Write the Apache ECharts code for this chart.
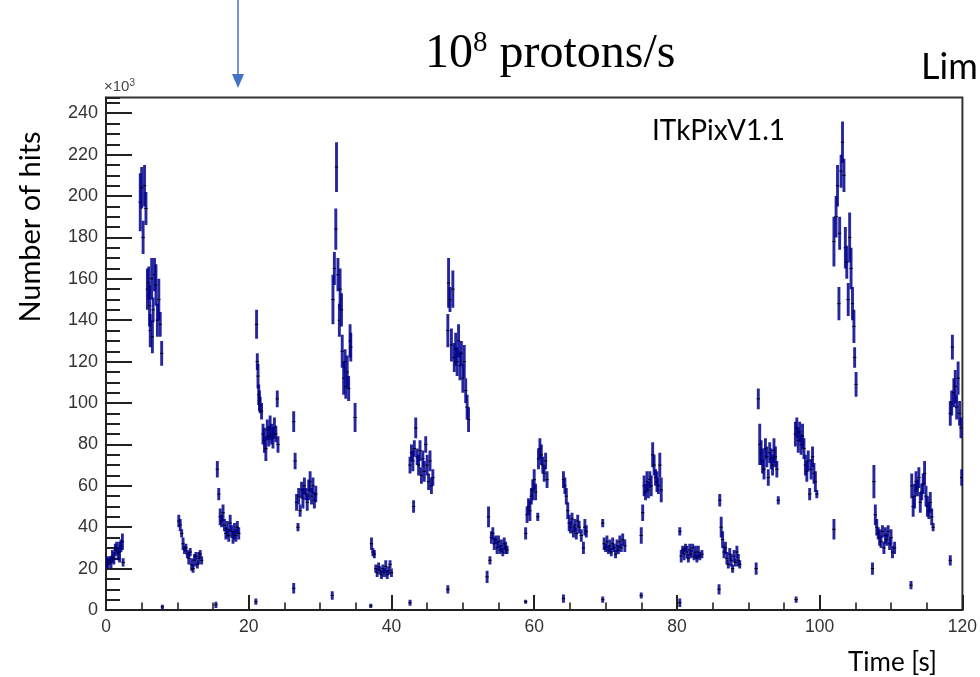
<!DOCTYPE html>
<html>
<head>
<meta charset="utf-8">
<script src="https://cdn.jsdelivr.net/npm/echarts@6/dist/echarts.min.js"></script>
<style>
html,body{margin:0;padding:0;background:#fff;}
#chart{width:980px;height:677px;}
</style>
</head>
<body>
<div id="chart"></div>
<script>
// ---- tick labels ----
const xTickLabels = [0, 20, 40, 60, 80, 100, 120];
const yTickLabels = [0, 20, 40, 60, 80, 100, 120, 140, 160, 180, 200, 220, 240];

// ---- data: [time (s), hits (x10^3), error half-length (x10^3)] ----
const spillA = [[0.1,23,3],[0.3,22,2],[0.5,24,2],[0.7,23,3],[0.9,26,3],[1.1,25,3],[1.3,29,3],[1.5,30,3],[1.7,27,3],[1.9,28,5],[2.1,31,3],[2.3,33,4],[2.4,23,2]];
const spillB = [[4.8,197,14],[5.0,204,10],[5.2,180,8],[5.4,205,10],[5.6,194,8],[5.8,155,10],[6.0,158,8],[6.1,147,10],[6.2,135,8],[6.4,160,10],[6.5,132,8],[6.6,145,6],[6.8,162,8],[7.0,157,10],[7.2,140,8],[7.4,150,10],[7.6,138,6],[7.8,124,6]];
const spillC = [[10.2,43,3],[10.4,41,3],[10.6,37,2],[10.8,32,3],[11.0,29,2],[11.2,30,2],[11.4,27,2],[11.6,25,3],[11.8,28,2],[12.0,22,3],[12.2,20,2],[12.4,24,3],[12.6,26,2],[12.8,22,2],[13.0,25,3],[13.2,27,2],[13.4,24,2]];
const spillD = [[15.6,68,4],[15.8,56,3],[16.0,45,4],[16.2,43,3],[16.4,47,4],[16.6,41,3],[16.8,37,3],[17.0,39,4],[17.2,36,3],[17.4,42,4],[17.6,38,3],[17.8,35,3],[18.0,38,4],[18.2,36,3],[18.4,40,3],[18.6,37,3]];
const spillE = [[21.1,138,7],[21.2,120,4],[21.3,113,6],[21.4,104,5],[21.5,101,5],[21.6,99,4],[21.8,96,4],[22.0,85,5],[22.2,82,6],[22.4,78,6],[22.6,87,5],[22.8,84,5],[23.0,88,6],[23.2,85,5],[23.4,83,5],[23.6,88,5],[23.8,85,4],[24.0,102,4],[24.1,80,4]];
const spillF = [[26.3,91,5],[26.5,72,4],[26.7,52,4],[26.9,40,2],[27.0,55,4],[27.2,48,3],[27.4,58,4],[27.6,54,5],[27.8,60,4],[28.0,56,3],[28.2,52,4],[28.4,58,5],[28.6,62,5],[28.8,55,4],[29.0,60,4],[29.2,53,4],[29.4,56,4]];
const spillG = [[31.8,150,12],[32.0,165,8],[32.2,184,10],[32.3,214,12],[32.5,162,8],[32.7,140,8],[32.8,155,10],[33.0,145,8],[33.1,125,8],[33.3,112,8],[33.5,120,6],[33.6,108,6],[33.8,115,8],[34.0,107,6],[34.2,130,8],[34.3,127,7],[34.9,93,7]];
const spillH = [[37.2,32,3],[37.4,28,2],[37.6,27,2],[37.8,20,2],[38.0,18,2],[38.2,21,2],[38.4,19,2],[38.6,17,2],[38.8,20,2],[39.0,18,2],[39.2,21,3],[39.4,17,2],[39.6,19,2],[39.8,22,2],[40.0,18,2]];
const spillI = [[42.6,70,4],[42.8,76,4],[43.0,72,5],[43.1,50,3],[43.2,78,4],[43.4,88,5],[43.6,74,4],[43.8,70,5],[44.0,77,5],[44.2,65,4],[44.4,73,4],[44.6,67,5],[44.8,80,4],[45.0,70,5],[45.2,62,4],[45.4,72,5],[45.6,60,4],[45.8,64,4]];
const spillJ = [[47.9,135,8],[48.0,158,12],[48.2,150,6],[48.4,128,8],[48.6,155,9],[48.8,122,7],[49.0,126,8],[49.2,120,7],[49.4,130,8],[49.6,118,7],[49.8,124,6],[50.0,112,7],[50.2,120,8],[50.4,106,6],[50.6,98,6],[50.8,92,6]];
const spillK = [[53.4,16,3],[53.6,45,5],[53.8,24,2],[54.0,35,3],[54.2,37,3],[54.4,32,3],[54.6,34,2],[54.8,30,3],[55.0,33,3],[55.2,29,2],[55.4,31,3],[55.6,28,2],[55.8,32,3],[56.0,30,3],[56.2,29,2]];
const spillL = [[58.8,37,3],[59.0,46,4],[59.2,50,4],[59.4,48,5],[59.6,55,4],[59.8,58,5],[60.0,63,5],[60.2,57,4],[60.5,45,2],[60.6,73,5],[60.8,78,5],[61.0,75,5],[61.2,70,4],[61.4,66,4],[61.6,72,4],[61.8,63,4]];
const spillM = [[64.1,63,4],[64.3,60,4],[64.5,55,4],[64.7,48,4],[64.9,42,4],[65.1,40,3],[65.3,44,3],[65.5,38,3],[65.7,41,3],[65.9,37,3],[66.1,43,3],[66.3,40,3],[66.6,36,3],[66.9,30,3],[67.1,40,4],[67.3,38,3]];
const spillN = [[69.6,42,2],[69.8,32,3],[70.0,30,2],[70.2,33,3],[70.4,29,2],[70.6,31,3],[70.8,28,2],[71.0,32,3],[71.2,30,2],[71.4,27,2],[71.6,31,3],[71.8,29,2],[72.0,33,3],[72.2,30,2],[72.4,34,3],[72.7,31,3]];
const spillO = [[75.0,36,4],[75.2,47,4],[75.4,60,5],[75.6,57,4],[75.8,62,5],[76.0,58,4],[76.2,63,4],[76.4,60,5],[76.6,75,6],[76.8,70,5],[77.0,64,4],[77.2,62,5],[77.4,60,4],[77.6,70,6],[77.8,58,6]];
const spillP = [[80.4,38,2],[80.6,26,3],[80.8,29,2],[81.0,27,3],[81.2,30,2],[81.4,28,3],[81.6,25,2],[81.8,29,3],[82.0,27,2],[82.2,30,2],[82.4,26,2],[82.6,28,3],[82.8,25,2],[83.0,28,3],[83.2,26,2],[83.5,27,2]];
const spillQ = [[86.0,53,3],[86.2,40,5],[86.4,34,4],[86.6,28,3],[86.8,30,3],[87.0,25,3],[87.2,22,2],[87.4,27,3],[87.6,24,3],[87.8,20,2],[88.0,26,3],[88.2,23,2],[88.4,28,3],[88.6,24,3],[88.8,22,2]];
const spillR = [[91.4,102,5],[91.6,80,10],[91.8,76,6],[92.0,72,6],[92.2,68,5],[92.4,78,5],[92.6,74,5],[92.8,64,4],[93.0,76,5],[93.2,73,5],[93.4,70,5],[93.6,77,6],[93.8,74,5],[94.0,68,4],[94.2,53,2]];
const spillS = [[96.6,85,6],[96.8,88,5],[97.0,82,6],[97.2,86,5],[97.4,80,5],[97.6,84,6],[97.8,78,5],[98.0,70,5],[98.2,67,5],[98.4,72,5],[98.6,56,3],[98.8,68,5],[99.0,74,5],[99.2,66,5],[99.4,62,5],[99.6,56,2]];
const spillT = [[102.0,178,12],[102.3,190,10],[102.5,205,10],[102.7,148,8],[102.8,182,8],[103.0,212,8],[103.2,226,10],[103.4,210,8],[103.6,175,10],[103.8,168,8],[104.0,150,8],[104.2,180,12],[104.4,165,10],[104.6,148,8],[104.8,137,8],[104.9,122,5],[105.1,109,6]];
const spillU = [[107.6,62,8],[107.8,46,5],[108.0,40,4],[108.2,37,3],[108.4,35,4],[108.6,33,3],[108.8,38,3],[109.0,30,3],[109.2,36,4],[109.4,34,3],[109.6,38,3],[109.8,32,3],[110.0,35,4],[110.2,28,3],[110.5,30,3]];
const spillV = [[112.9,60,6],[113.1,50,5],[113.3,55,6],[113.5,62,5],[113.7,59,4],[113.9,64,5],[114.1,52,5],[114.3,57,4],[114.5,61,5],[114.7,66,6],[114.9,55,5],[115.1,50,5],[115.3,48,4],[115.5,52,5],[115.7,45,4],[115.9,40,2]];
const spillW = [[118.3,95,6],[118.5,100,6],[118.6,127,6],[118.8,105,7],[119.0,108,8],[119.2,98,6],[119.4,112,8],[119.6,95,6],[119.8,88,5],[119.9,64,4]];
const strayBins = [[7.9,1.5,1],[15.4,2.5,1.5],[21.0,4,1.5],[26.3,10.5,2.5],[31.7,7,2],[37.1,2,1],[42.6,3.5,1.5],[47.9,10,2],[58.8,4,1],[64.1,5.5,2],[69.6,5,1.5],[75.0,7,1.5],[80.4,3.5,2],[85.9,10,2.5],[91.1,20,3],[96.7,5,1.5],[102.0,39,5],[107.4,20,3],[112.8,12,2],[118.3,24,2.5]];

const allBins = [].concat(spillA, spillB, spillC, spillD, spillE, spillF, spillG, spillH,
  spillI, spillJ, spillK, spillL, spillM, spillN, spillO, spillP, spillQ, spillR,
  spillS, spillT, spillU, spillV, spillW, strayBins);

const Y_MAX = 247.6;
const BAR_COLOR = 'rgba(0,0,140,0.85)';
const AXIS_COLOR = '#222';
const LABEL_FONT = '"Liberation Sans", Arial, sans-serif';
const NOTE_FONT = 'Lato, "Open Sans", sans-serif';

const chart = echarts.init(document.getElementById('chart'), null, {renderer: 'canvas'});

function renderBin(params, api) {
  const t = api.value(0), v = api.value(1), e = api.value(2);
  const top = api.coord([t, v + e]);
  const bot = api.coord([t, Math.max(0, v - e)]);
  const mid = api.coord([t, v]);
  return {
    type: 'group',
    children: [
      {type: 'line', shape: {x1: top[0], y1: top[1], x2: bot[0], y2: bot[1]},
       style: {stroke: BAR_COLOR, lineWidth: 2.9}},
      {type: 'line', shape: {x1: mid[0] - 1.7, y1: mid[1], x2: mid[0] + 1.7, y2: mid[1]},
       style: {stroke: '#000', lineWidth: 1}}
    ]
  };
}

const option = {
  animation: false,
  backgroundColor: '#fff',
  grid: {left: 106, right: 15, top: 97.5, bottom: 67, show: true, borderColor: '#333', borderWidth: 2, backgroundColor: 'transparent'},
  xAxis: [
    {type: 'value', min: 0, max: 120, interval: 20, position: 'bottom',
     axisLine: {show: true, onZero: false, lineStyle: {color: AXIS_COLOR, width: 2}},
     axisTick: {show: true, inside: true, length: 15, lineStyle: {color: AXIS_COLOR, width: 2}},
     axisLabel: {show: true, fontSize: 17.5, color: '#333', margin: 8, fontFamily: LABEL_FONT,
                 formatter: v => xTickLabels.indexOf(v) >= 0 ? String(v) : ''},
     splitLine: {show: false}},
    {type: 'value', min: 0, max: 120, interval: 5, position: 'bottom',
     axisLine: {show: false, onZero: false},
     axisTick: {show: true, inside: true, length: 7.5, lineStyle: {color: AXIS_COLOR, width: 1.6}},
     axisLabel: {show: false}, splitLine: {show: false}}
  ],
  yAxis: [
    {type: 'value', min: 0, max: Y_MAX, interval: 20, position: 'left',
     axisLine: {show: true, onZero: false, lineStyle: {color: AXIS_COLOR, width: 2}},
     axisTick: {show: true, inside: true, length: 26, lineStyle: {color: AXIS_COLOR, width: 2}},
     axisLabel: {show: true, fontSize: 18, color: '#333', margin: 8, fontFamily: LABEL_FONT, showMaxLabel: false,
                 formatter: v => yTickLabels.indexOf(v) >= 0 ? String(v) : ''},
     splitLine: {show: false}},
    {type: 'value', min: 0, max: Y_MAX, interval: 5, position: 'left',
     axisLine: {show: false, onZero: false},
     axisTick: {show: true, inside: true, length: 14, lineStyle: {color: AXIS_COLOR, width: 2}},
     axisLabel: {show: false}, splitLine: {show: false}}
  ],
  series: [{
    type: 'custom',
    xAxisIndex: 0, yAxisIndex: 0,
    clip: true,
    renderItem: renderBin,
    encode: {x: 0, y: 1},
    data: allBins
  }],
  graphic: [
    {type: 'text', left: 104, top: 78,
     style: {text: '{a|×10}{b|3}', rich: {a: {fontSize: 15, fontFamily: LABEL_FONT, fill: '#444'}, b: {fontSize: 10, fontFamily: LABEL_FONT, fill: '#444', verticalAlign: 'top', padding: [0,0,8,0]}}}},
    {type: 'text', x: 31, y: 227, rotation: Math.PI / 2,
     style: {text: 'Number of hits', fontSize: 29, fontFamily: NOTE_FONT, fill: '#000', align: 'center', verticalAlign: 'middle'}},
    {type: 'text', x: 848, y: 663,
     style: {text: 'Time [s]', fontSize: 26, fontFamily: NOTE_FONT, fill: '#000', align: 'left', verticalAlign: 'middle'}},
    {type: 'text', x: 652, y: 131,
     style: {text: 'ITkPixV1.1', fontSize: 28, fontFamily: NOTE_FONT, fill: '#000', align: 'left', verticalAlign: 'middle'}},
    {type: 'text', x: 921, y: 67,
     style: {text: 'Lim', fontSize: 36, fontFamily: NOTE_FONT, fill: '#000', align: 'left', verticalAlign: 'middle'}},
    {type: 'text', x: 425, y: 54,
     style: {text: '{a|10}{b|8}{a| protons/s}', align: 'left', verticalAlign: 'middle',
             rich: {a: {fontSize: 48, fontFamily: '"Liberation Serif", "Times New Roman", serif', fill: '#000'},
                    b: {fontSize: 29, fontFamily: '"Liberation Serif", "Times New Roman", serif', fill: '#000', verticalAlign: 'top', padding: [0,0,22,0]}}}},
    {type: 'line', shape: {x1: 238, y1: 0, x2: 238, y2: 76}, style: {stroke: '#4472C4', lineWidth: 1.5}},
    {type: 'polygon', shape: {points: [[232, 74], [244, 74], [238, 88]]}, style: {fill: '#4472C4'}}
  ]
};
chart.setOption(option);
</script>
</body>
</html>
